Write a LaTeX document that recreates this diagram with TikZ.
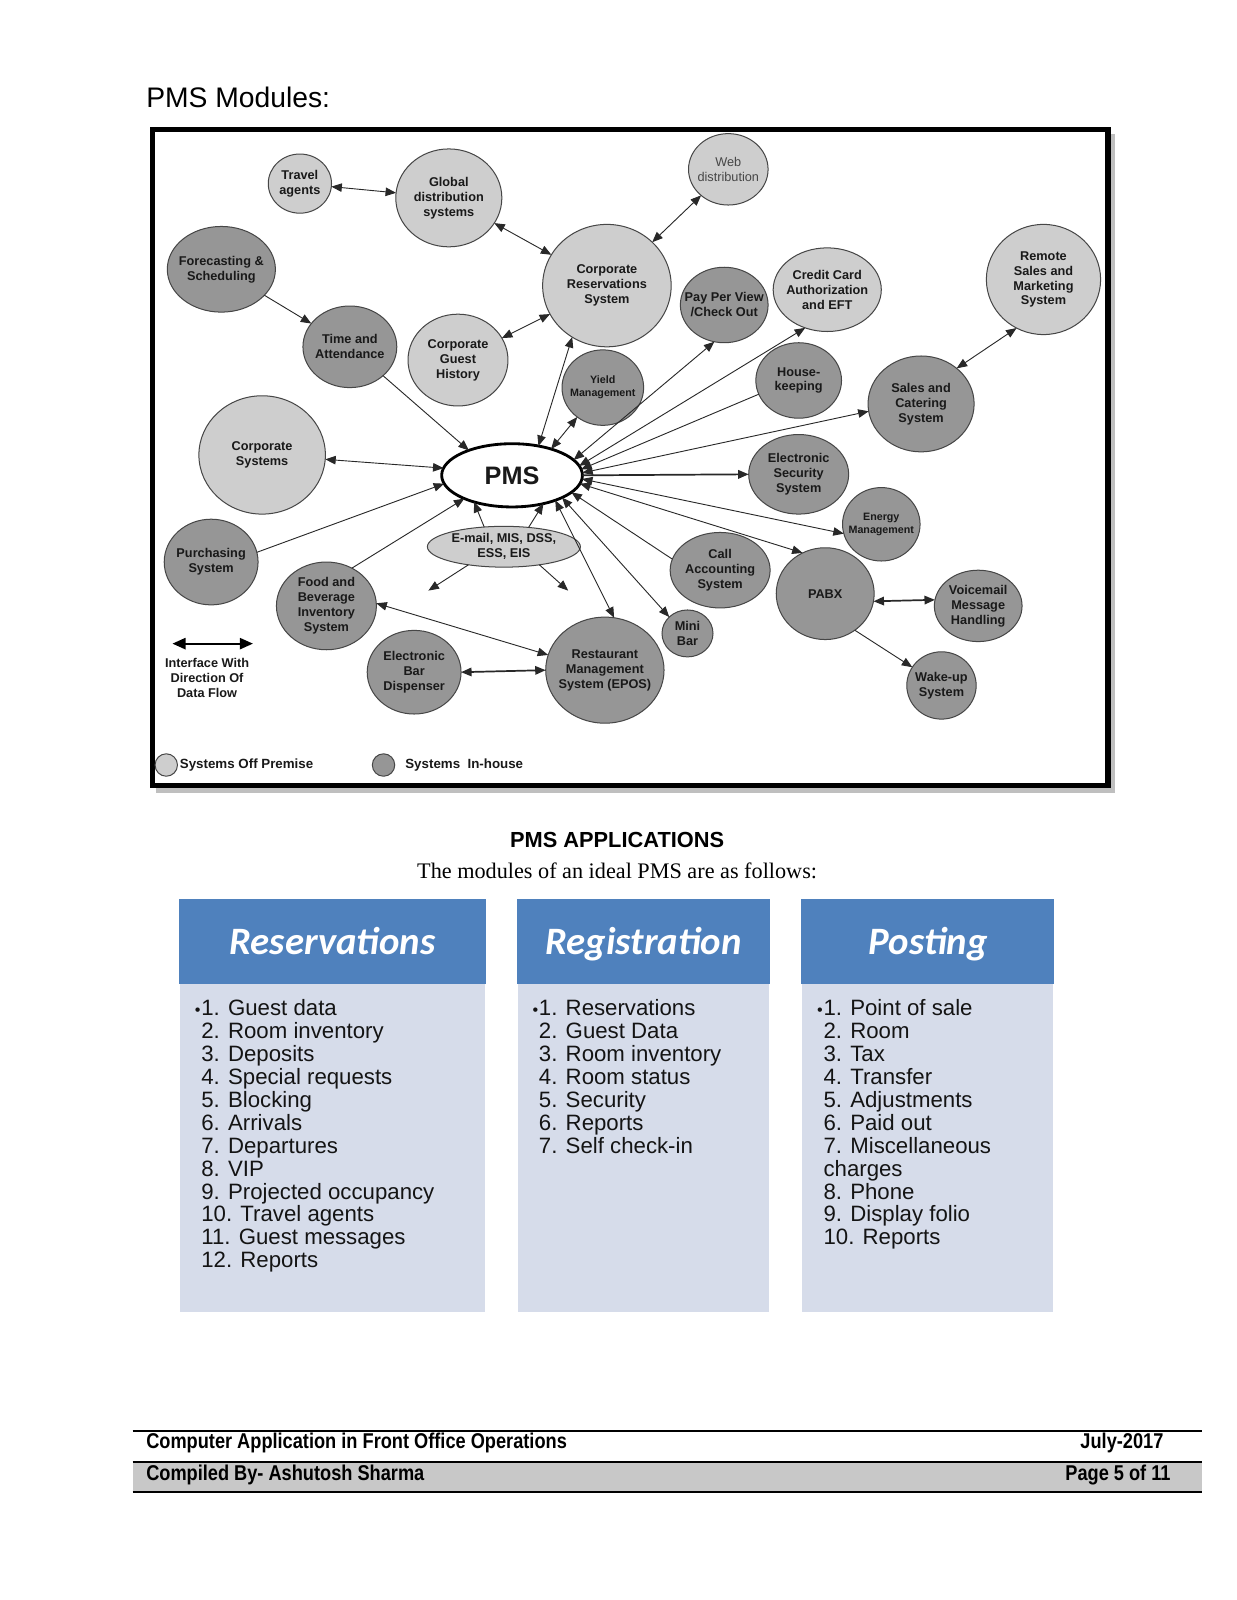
\documentclass[tikz,border=0pt]{standalone}
\usepackage{fontspec}
\setmainfont{Liberation Sans}
\newfontfamily\hdrfont{Carlito}
\newfontfamily\serfont{Liberation Serif}
\newfontfamily\narrowfont[FakeStretch=0.85]{Liberation Sans}
\usetikzlibrary{shapes.geometric,arrows.meta}
\definecolor{lightc}{RGB}{206,206,206}
\definecolor{darkc}{RGB}{150,150,150}
\definecolor{edgec}{RGB}{70,70,70}
\definecolor{linec}{RGB}{40,40,40}
\definecolor{txtc}{RGB}{25,25,25}
\definecolor{webtxt}{RGB}{70,70,70}
\definecolor{hdrblue}{RGB}{79,129,189}
\definecolor{bodyblue}{RGB}{214,220,234}
\definecolor{footgray}{RGB}{200,200,200}
\definecolor{listtxt}{RGB}{20,20,20}
\newcommand\dgmfont{\fontsize{6.3}{7.4}\selectfont\bfseries}
\newcommand\dgmsmall{\fontsize{5.3}{6.3}\selectfont\bfseries}
\newcommand\listfont{\fontsize{11}{13}\selectfont}
\begin{document}
\begin{tikzpicture}[x=0.505pt,y=-0.505pt,
  >={Triangle[length=5.2pt,width=4.2pt]},
  lbl/.style={align=center,font=\dgmfont,text=txtc,inner sep=0pt},
  sys/.style n args={4}{ellipse,draw=edgec,line width=0.5pt,inner sep=0pt,outer sep=0pt,
     minimum width=1.01pt*#1,minimum height=1.01pt*#2,fill=#3,label={[lbl]center:{#4}}},
  con/.style={draw=linec,line width=0.45pt},
  one/.style={con,->},
  two/.style={con,<->},
  heavy/.style={line width=0.85pt},
  hdr/.style={anchor=base,font=\hdrfont\fontsize{19.2}{23}\selectfont\bfseries\itshape,text=white},
  itm/.style={anchor=base west,font=\listfont,text=listtxt,inner sep=0pt},
  bul/.style={anchor=base east,font=\fontsize{8}{8}\selectfont,text=listtxt,inner sep=0pt},
  foot/.style={font=\narrowfont\fontsize{10.6}{12}\selectfont\bfseries,inner sep=0pt}]
\useasboundingbox (0,0) rectangle (1212.7,1568.6);
\fill[white] (0,0) rectangle (1212.7,1568.6);

% title
\node[anchor=base west,font=\fontsize{14}{16}\selectfont,inner sep=0pt] (ttl) at (143,105) {PMS Modules:};

% frame
\fill[black!25] (153,131) rectangle (1093,777);
\fill[white] (149.5,127) rectangle (1086.5,770);
\draw[line width=2.8pt] (149.5,127) rectangle (1086.5,770);

% systems
\node[sys={31}{29}{lightc}{Travel\\agents}] (tra) at (294,180) {};
\node[sys={52}{48}{lightc}{Global\\distribution\\systems}] (gds) at (440,194) {};
\node[sys={39}{35}{lightc}{}, label={[lbl,font=\fontsize{6.3}{7.4}\selectfont,text=webtxt]center:{Web\\distribution}}] (web) at (714,166) {};
\node[sys={53}{42}{darkc}{Forecasting \&\\Scheduling}] (fc) at (217,264) {};
\node[sys={63}{60}{lightc}{Corporate\\Reservations\\System}] (crs) at (595,280) {};
\node[sys={43}{37}{darkc}{Pay Per View\\/Check Out}] (ppv) at (710,299) {};
\node[sys={53}{41}{lightc}{Credit Card\\Authorization\\and EFT}] (cc) at (811,284) {};
\node[sys={56}{54}{lightc}{Remote\\Sales and\\Marketing\\System}] (rm) at (1023,274) {};
\node[sys={46}{40}{darkc}{Time and\\Attendance}] (ta) at (343,340) {};
\node[sys={49}{45}{lightc}{Corporate\\Guest\\History}] (cgh) at (449,353) {};
\node[sys={40}{37}{darkc}{}, label={[lbl,font=\dgmsmall]center:{Yield\\Management}}] (ym) at (591,380) {};
\node[sys={42}{37}{darkc}{House-\\keeping}] (hk) at (783,373) {};
\node[sys={52}{47}{darkc}{Sales and\\Catering\\System}] (sc) at (903,396) {};
\node[sys={62}{58}{lightc}{Corporate\\Systems}] (cs) at (257,446) {};
\node[ellipse,draw=black,line width=1.4pt,fill=white,inner sep=0pt,outer sep=0pt,
  minimum width=1.01pt*69,minimum height=1.01pt*31,
  label={[lbl,font=\fontsize{12.5}{14}\selectfont\bfseries]center:PMS}] (pms) at (502,466) {};
\node[sys={49}{39}{darkc}{Electronic\\Security\\System}] (sec) at (783,465) {};
\node[sys={38}{36}{darkc}{}, label={[lbl,font=\dgmsmall]center:{Energy\\Management}}] (en) at (864,514) {};
\node[sys={46}{42}{darkc}{Purchasing\\System}] (pur) at (207,551) {};
\node[sys={75}{20}{lightc}{E-mail, MIS, DSS,\\ESS, EIS}] (em) at (494,536) {};
\node[sys={49}{43}{darkc}{Food and\\Beverage\\Inventory\\System}] (fb) at (320,594) {};
\node[sys={49}{37}{darkc}{Call\\Accounting\\System}] (call) at (706,559) {};
\node[sys={48}{45}{darkc}{PABX}] (pabx) at (809,582) {};
\node[sys={43}{35}{darkc}{Voicemail\\Message\\Handling}] (vm) at (959,594) {};
\node[sys={25}{23}{darkc}{Mini\\Bar}] (mb) at (674,621) {};
\node[sys={46}{41}{darkc}{Electronic\\Bar\\Dispenser}] (ebd) at (406,659) {};
\node[sys={58}{52}{darkc}{Restaurant\\Management\\System (EPOS)}] (rest) at (593,657) {};
\node[sys={34}{33}{darkc}{Wake-up\\System}] (wk) at (923,672) {};

\coordinate (emdl) at (420,579);
\coordinate (emdr) at (557,579);

% connectors
\draw[two] (tra) -- (gds);
\draw[two] (gds) -- (crs);
\draw[two] (web) -- (crs);
\draw[one] (fc) -- (ta);
\draw[one] (ta) -- (pms.150);
\draw[two] (cgh) -- (crs);
\draw[two] (crs.236) -- (pms.48);
\draw[two] (ym.229) -- (pms.34);
\draw[two] (pms.14) -- (ppv.255);
\draw[two] (pms.8) -- (cc.240);
\draw[one] (hk.199) -- (pms.5);
\draw[two] (pms.2) -- (sc.188);
\draw[one,heavy] (pms.east) -- (sec.west);
\draw[two] (pms.-3) -- (en.194);
\draw[two] (pms.-7) -- (pabx.119);
\draw[one] (call.167) -- (pms.-16);
\draw[two] (pms.-24) -- (mb.138);
\draw[two] (pms.-30) -- (rest.80);
\draw[two] (cs.-4) -- (pms.174);
\draw[one] (pur.12) -- (pms.187);
\draw[one] (fb.56) -- (pms.206);
\draw[two] (fb.3) -- (rest.165);
\draw[two,heavy] (ebd.east) -- (rest.west);
\draw[one] (em.135) -- (pms.215);
\draw[one] (em.38) -- (pms.-42);
\draw[one] (em.207) -- (emdl);
\draw[one] (em.-27) -- (emdr);
\draw[two] (sc.45) -- (rm.241);
\draw[two,heavy] (pabx.-9) -- (vm.172);
\draw[one] (pabx.-51) -- (wk.148);

% legend
\coordinate (lga) at (169,631);
\coordinate (lgb) at (248,631);
\draw[line width=1.1pt,{Triangle[length=6.5pt,width=5.5pt]}-{Triangle[length=6.5pt,width=5.5pt]}] (lga) -- (lgb);
\node[lbl] (lgt) at (203,665) {Interface With\\Direction Of\\Data Flow};
\node[circle,draw=edgec,line width=0.5pt,fill=lightc,minimum size=11.1pt,inner sep=0pt] (lgoff) at (163,750) {};
\node[lbl,anchor=west,font=\fontsize{6.6}{8}\selectfont\bfseries] (lgofft) at (176,750) {Systems Off Premise};
\node[circle,draw=edgec,line width=0.5pt,fill=darkc,minimum size=11.1pt,inner sep=0pt] (lgin) at (376,750) {};
\node[lbl,anchor=west,font=\fontsize{6.6}{8}\selectfont\bfseries] (lgint) at (397,750) {Systems\ \ In-house};

% applications heading
\node[anchor=base,font=\fontsize{10.8}{13}\selectfont\bfseries,inner sep=0pt] (apph) at (605,831) {PMS APPLICATIONS};
\node[anchor=base,font=\serfont\fontsize{11}{13}\selectfont,inner sep=0pt] (apps) at (605,861) {The modules of an ideal PMS are as follows:};

% boxes
\fill[bodyblue] (176,965) rectangle (475,1286);
\fill[hdrblue] (175,881) rectangle (476,965);
\fill[bodyblue] (508,965) rectangle (754,1286);
\fill[hdrblue] (507,881) rectangle (755,965);
\fill[bodyblue] (786,965) rectangle (1032,1286);
\fill[hdrblue] (785,881) rectangle (1033,965);

\node[hdr] (h1) at (326,936) {Reservations};
\node[hdr] (h2) at (631,936) {Registration};
\node[hdr] (h3) at (910,936) {Posting};

\node[bul] (b1) at (197,995.5) {•};
\foreach \itmtext [count=\i] in {1. Guest data,2. Room inventory,3. Deposits,4. Special requests,5. Blocking,6. Arrivals,7. Departures,8. VIP,9. Projected occupancy,10. Travel agents,11. Guest messages,12. Reports}
  \node[itm] (ra\i) at (197,{995.5+(\i-1)*22.5}) {\itmtext};

\node[bul] (b2) at (528,995.5) {•};
\foreach \itmtext [count=\i] in {1. Reservations,2. Guest Data,3. Room inventory,4. Room status,5. Security,6. Reports,7. Self check-in}
  \node[itm] (rg\i) at (528,{995.5+(\i-1)*22.5}) {\itmtext};

\node[bul] (b3) at (807,995.5) {•};
\foreach \itmtext [count=\i] in {1. Point of sale,2. Room,3. Tax,4. Transfer,5. Adjustments,6. Paid out,7. Miscellaneous,charges,8. Phone,9. Display folio,10. Reports}
  \node[itm] (ps\i) at (807,{995.5+(\i-1)*22.5}) {\itmtext};

% footer
\fill[footgray] (130,1433) rectangle (1178,1463);
\draw[line width=0.9pt] (130,1403) -- (1178,1403);
\draw[line width=1.1pt] (130,1433) -- (1178,1433);
\draw[line width=1.1pt] (130,1463) -- (1178,1463);
\node[foot,anchor=base west] (f1) at (143,1420) {Computer Application in Front Office Operations};
\node[foot,anchor=base east] (f2) at (1141,1420) {July-2017};
\node[foot,anchor=base west] (f3) at (143,1451) {Compiled By- Ashutosh Sharma};
\node[foot,anchor=base east] (f4) at (1148,1451) {Page 5 of 11};
\end{tikzpicture}
\end{document}
